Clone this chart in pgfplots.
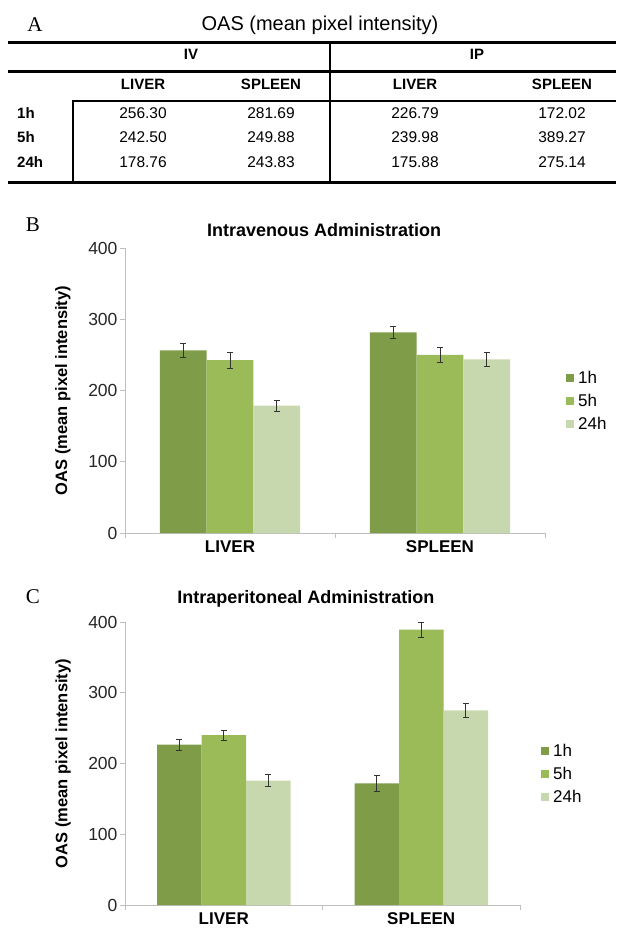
\documentclass[border=0pt]{standalone}
\usepackage{fontspec}
\setmainfont{Liberation Sans}
\newfontfamily\panelfont{Liberation Serif}
\usepackage{pgfplots}
\pgfplotsset{compat=1.18}
\usepackage{pgfplotstable}

\definecolor{c1}{HTML}{7F9C48}
\definecolor{c5}{HTML}{9BBB59}
\definecolor{c24}{HTML}{C8D8AE}
\definecolor{axgray}{HTML}{BFBFBF}
\definecolor{txt}{HTML}{262626}

\pgfplotstableread{
x y1 e1 y5 e5 y24 e24
0 256.30 10 242.50 11 178.76 8
1 281.69 9 249.88 10.5 243.83 10
}\ivdata
\pgfplotstableread{
x y1 e1 y5 e5 y24 e24
0 226.79 7.5 239.98 7.5 175.88 8.7
1 172.02 11 389.27 10.6 275.14 10
}\ipdata

\pgfplotsset{
 barstyle/.style={
  scale only axis, anchor=south west,
  xmin=-0.5, xmax=1.5, ymin=0, ymax=400, ytick={0,100,200,300,400},
  ybar=0pt,
  axis lines*=left,
  axis line style={draw=axgray, line width=0.8pt},
  tick align=outside, major tick length=5pt,
  tick style={draw=axgray, line width=0.8pt},
  xtick={-0.5,0.5,1.5}, xticklabels={},
  extra x ticks={0,1}, extra x tick labels={LIVER,SPLEEN},
  extra x tick style={major tick length=0pt, xticklabel style={font=\fontsize{17}{20}\selectfont\bfseries, text=black, yshift=-4pt}},
  /pgf/number format/assume math mode=true,
  yticklabel style={font=\fontsize{17.5}{20}\selectfont, text=txt, xshift=1pt},
  ylabel={OAS (mean pixel intensity)},
  ylabel style={font=\fontsize{16.5}{19}\selectfont\bfseries, anchor=center},
  title style={font=\fontsize{18}{21}\selectfont\bfseries, anchor=center},
  legend style={draw=none, fill=none, anchor=west, font=\fontsize{17}{20}\selectfont, row sep=5pt, inner sep=0pt},
  legend cell align=left,
  legend image code/.code={\fill[##1] (0pt,-4pt) rectangle (8pt,4pt); \path (0pt,0pt) -- (10pt,0pt);},
  error bars/y dir=both, error bars/y explicit,
  error bars/error bar style={draw=black!80, line width=0.6pt},
  error bars/error mark options={rotate=90, mark size=3pt, draw=black!80, line width=0.6pt},
 }
}

\begin{document}
\begin{tikzpicture}
\useasboundingbox (0,0) rectangle (616pt,-934pt);
\begin{scope}[x=1pt,y=-1pt]
 \node[font=\panelfont\fontsize{21}{24}\selectfont] at (35,25) {A};
 \node[font=\fontsize{20}{24}\selectfont] at (320,25) {OAS (mean pixel intensity)};
 \draw[line width=3pt] (8,43) -- (616,43);
 \draw[line width=3pt] (8,72) -- (616,72);
 \draw[line width=3pt] (8,182) -- (616,182);
 \draw[line width=2pt] (72,101) -- (616,101);
 \draw[line width=1.5pt] (330,43) -- (330,182);
 \draw[line width=2pt] (73,100) -- (73,182);
 \begin{scope}[font=\fontsize{15}{18}\selectfont\bfseries]
  \node at (191,54) {IV};
  \node at (477,54) {IP};
  \node at (143,84) {LIVER};
  \node at (271,84) {SPLEEN};
  \node at (415,84) {LIVER};
  \node at (562,84) {SPLEEN};
  \node[anchor=west,inner sep=0pt] at (17,113) {1h};
  \node[anchor=west,inner sep=0pt] at (17,137) {5h};
  \node[anchor=west,inner sep=0pt] at (17,162) {24h};
 \end{scope}
 \begin{scope}[font=\fontsize{15.5}{18}\selectfont]
  \node at (143,113) {256.30}; \node at (271,113) {281.69}; \node at (415,113) {226.79}; \node at (562,113) {172.02};
  \node at (143,137) {242.50}; \node at (271,137) {249.88}; \node at (415,137) {239.98}; \node at (562,137) {389.27};
  \node at (143,162) {178.76}; \node at (271,162) {243.83}; \node at (415,162) {175.88}; \node at (562,162) {275.14};
 \end{scope}
 \node[font=\panelfont\fontsize{21}{24}\selectfont] at (33,225) {B};
 \node[font=\panelfont\fontsize{21}{24}\selectfont] at (33,597) {C};
\end{scope}

\begin{axis}[barstyle, at={(125pt,-533pt)}, width=420pt, height=285pt, bar width=46.7pt,
  title={Intravenous Administration},
  title style={at={(axis description cs:0.474,1.042)}},
  ylabel style={at={(axis description cs:-0.148,0.5)}},
  legend style={at={(axis description cs:1.05,0.463)}}]
 \addplot[fill=c1, draw=none] table[x=x, y=y1, y error=e1]{\ivdata};
 \addplot[fill=c5, draw=none] table[x=x, y=y5, y error=e5]{\ivdata};
 \addplot[fill=c24, draw=none] table[x=x, y=y24, y error=e24]{\ivdata};
 \legend{1h,5h,24h}
\end{axis}

\begin{axis}[barstyle, at={(125pt,-905pt)}, width=395pt, height=283pt, bar width=44.5pt,
  title={Intraperitoneal Administration},
  title style={at={(axis description cs:0.458,1.060)}},
  ylabel style={at={(axis description cs:-0.157,0.5)}},
  legend style={at={(axis description cs:1.053,0.463)}}]
 \addplot[fill=c1, draw=none] table[x=x, y=y1, y error=e1]{\ipdata};
 \addplot[fill=c5, draw=none] table[x=x, y=y5, y error=e5]{\ipdata};
 \addplot[fill=c24, draw=none] table[x=x, y=y24, y error=e24]{\ipdata};
 \legend{1h,5h,24h}
\end{axis}
\end{tikzpicture}
\end{document}
